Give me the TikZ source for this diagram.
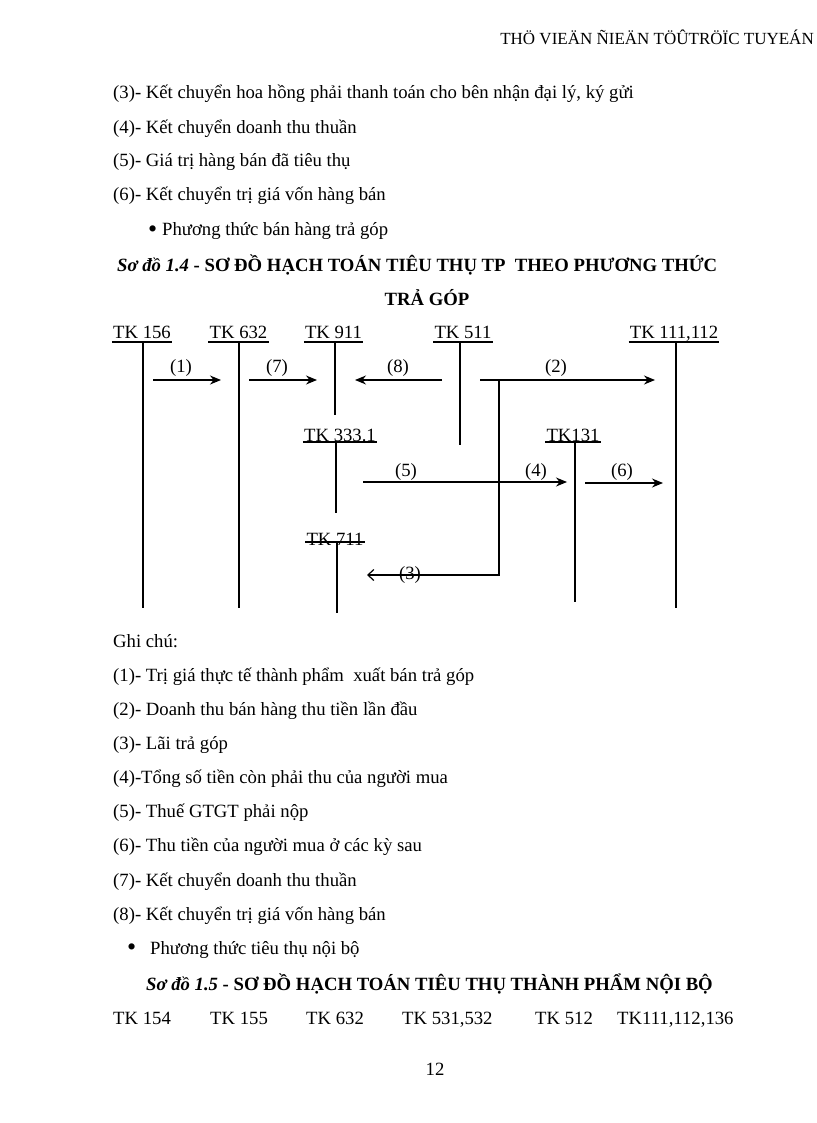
\documentclass[tikz,border=0pt]{standalone}
\usepackage{fontspec}
\setmainfont{Liberation Serif}
\usetikzlibrary{arrows.meta}
\begin{document}
\begin{tikzpicture}[x=1pt,y=-1pt,
  txt/.style={anchor=base west,inner sep=0pt,font=\fontsize{18.7}{22}\selectfont},
  acc/.style={anchor=base,inner sep=0pt,font=\fontsize{18.7}{22}\selectfont},
  ttl/.style={anchor=base west,inner sep=0pt,font=\bfseries\fontsize{18.7}{22}\selectfont},
  ln/.style={line width=1.2pt},
  ul/.style={line width=1.2pt},
  arr/.style={ln,-{Stealth[length=11pt,width=9pt]}},
  oarr/.style={ln,-{Straight Barb[length=6pt,width=11pt]}}]
\useasboundingbox (0,0) rectangle (816,1123);
% header
\node[txt,anchor=base east,font=\fontsize{17}{21}\selectfont] (hdr) at (814,45) {THÖ VIEÄN ÑIEÄN TÖÛTRÖÏC TUYEÁN};
% upper text
\node[txt] (l3) at (113,99) {(3)- Kết chuyển hoa hồng phải thanh toán cho bên nhận đại lý, ký gửi};
\node[txt] (l4) at (113,134) {(4)- Kết chuyển doanh thu thuần};
\node[txt] (l5) at (113,167) {(5)- Giá trị hàng bán đã tiêu thụ};
\node[txt] (l6) at (113,201) {(6)- Kết chuyển trị giá vốn hàng bán};
\node[txt] (b1d) at (148,236) {\fontsize{26}{22}\selectfont\raisebox{-1.5pt}{•}};
\node[txt] (b1) at (162,236) {Phương thức bán hàng trả góp};
\node[ttl] (t1) at (117,271) {\textit{Sơ đồ 1.4} - SƠ ĐỒ HẠCH TOÁN TIÊU THỤ TP\ \ THEO PHƯƠNG THỨC};
\node[ttl,anchor=base] (t2) at (427,305) {TRẢ GÓP};
% accounts
\node[acc] (k156) at (142,338) {TK 156};
\node[acc] (k632) at (238.5,338) {TK 632};
\node[acc] (k911) at (333.5,338) {TK 911};
\node[acc] (k511) at (463,338) {TK 511};
\node[acc] (k111) at (674,338) {TK 111,112};
\node[acc] (k333) at (340,441) {TK 333.1};
\node[acc] (k131) at (573,441) {TK131};
\node[acc] (k711) at (335,545) {TK 711};
\foreach \n/\d in {k156/4,k632/4,k911/4,k511/4,k111/4,k333/1,k131/1,k711/-3}{
  \draw[ul] ([xshift=-1pt,yshift=-\d pt]\n.base west) -- ([xshift=1pt,yshift=-\d pt]\n.base east);
}
% T-account vertical lines
\draw[ln] ([xshift=1pt,yshift=-4pt]k156.base) -- ++(0,266);
\draw[ln] ([xshift=0.5pt,yshift=-4pt]k632.base) -- ++(0,266);
\draw[ln] ([xshift=1.5pt,yshift=-4pt]k911.base) -- ++(0,73);
\draw[ln] ([xshift=-3pt,yshift=-4pt]k511.base) -- ++(0,103);
\draw[ln] ([xshift=2pt,yshift=-4pt]k111.base) -- ++(0,266);
\draw[ln] ([xshift=-4pt,yshift=-1pt]k333.base) -- ++(0,71);
\draw[ln] ([xshift=2pt,yshift=-1pt]k131.base) -- ++(0,160);
\draw[ln] ([xshift=2pt,yshift=3pt]k711.base) -- ++(0,71);
% arrow end points
\coordinate (a1s) at (153,380); \coordinate (a1e) at (221,380);
\coordinate (a7s) at (249,380); \coordinate (a7e) at (317,380);
\coordinate (a8s) at (442,380); \coordinate (a8e) at (355,380);
\coordinate (a2s) at (480,380); \coordinate (a2e) at (655,380);
\coordinate (cj) at (499,380); \coordinate (cb) at (499,575); \coordinate (a3e) at (367,575);
\coordinate (a5s) at (363,482); \coordinate (a4e) at (567,482);
\coordinate (a6s) at (585,483); \coordinate (a6e) at (663,483);
\draw[arr] (a1s) -- (a1e);
\draw[arr] (a7s) -- (a7e);
\draw[arr] (a8s) -- (a8e);
\draw[arr] (a2s) -- (a2e);
\draw[oarr] (cj) -- (cb) -- (a3e);
\draw[arr] (a5s) -- (a4e);
\draw[arr] (a6s) -- (a6e);
% arrow labels
\node[acc] (n1) at (181,372) {(1)};
\node[acc] (n7) at (277,372) {(7)};
\node[acc] (n8) at (398,372) {(8)};
\node[acc] (n2) at (556,372) {(2)};
\node[acc] (n5) at (406,476) {(5)};
\node[acc] (n4) at (536,476) {(4)};
\node[acc] (n6) at (622,476) {(6)};
\node[acc] (n3) at (410,579) {(3)};
% notes
\node[txt] (g0) at (113,647) {Ghi chú:};
\node[txt] (g1) at (113,681) {(1)- Trị giá thực tế thành phẩm\ \ xuất bán trả góp};
\node[txt] (g2) at (113,715) {(2)- Doanh thu bán hàng thu tiền lần đầu};
\node[txt] (g3) at (113,749) {(3)- Lãi trả góp};
\node[txt] (g4) at (113,783) {(4)-Tổng số tiền còn phải thu của người mua};
\node[txt] (g5) at (113,817) {(5)- Thuế GTGT phải nộp};
\node[txt] (g6) at (113,851) {(6)- Thu tiền của người mua ở các kỳ sau};
\node[txt] (g7) at (113,886) {(7)- Kết chuyển doanh thu thuần};
\node[txt] (g8) at (113,920) {(8)- Kết chuyển trị giá vốn hàng bán};
\node[txt] (b2d) at (127,954) {\fontsize{26}{22}\selectfont\raisebox{-1.5pt}{•}};
\node[txt] (b2) at (150,954) {Phương thức tiêu thụ nội bộ};
\node[ttl] (t3) at (146,990) {\textit{Sơ đồ 1.5} - SƠ ĐỒ HẠCH TOÁN TIÊU THỤ THÀNH PHẨM NỘI BỘ};
\node[txt] (m1) at (113,1024) {TK 154};
\node[txt] (m2) at (210,1024) {TK 155};
\node[txt] (m3) at (306,1024) {TK 632};
\node[txt] (m4) at (402,1024) {TK 531,532};
\node[txt] (m5) at (535,1024) {TK 512};
\node[txt] (m6) at (617,1024) {TK111,112,136};
\node[acc] (pg) at (435,1075) {12};
\end{tikzpicture}
\end{document}
